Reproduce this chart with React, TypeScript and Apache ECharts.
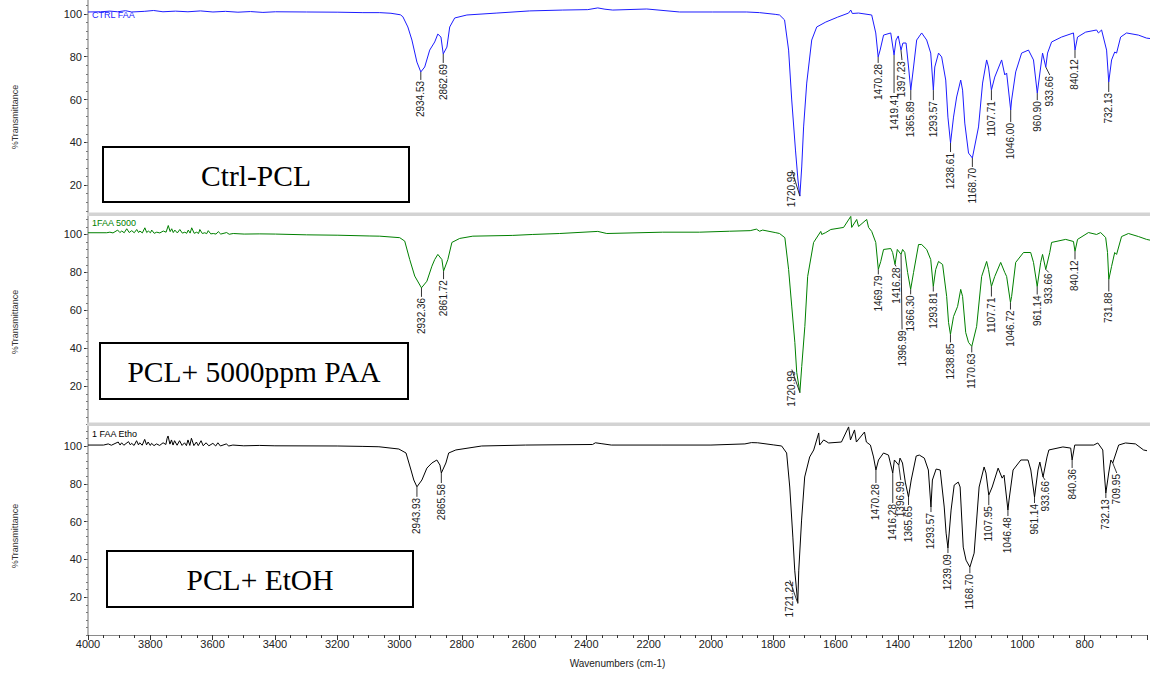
import React, { useEffect, useRef } from "react";
import * as echarts from "echarts";

// ---------- Data ----------
const xTickLabels = [4000, 3800, 3600, 3400, 3200, 3000, 2800, 2600, 2400, 2200, 2000, 1800, 1600, 1400, 1200, 1000, 800];
const yTickValues = [20, 40, 60, 80, 100];

const panelTitles = ["Ctrl-PCL", "PCL+ 5000ppm PAA", "PCL+ EtOH"];
const seriesNames = ["CTRL FAA", "1FAA 5000", "1 FAA Etho"];

const ctrlSpectrum = [
  [4000, 100.9], [3960, 101.0], [3930, 101.3], [3905, 101.0], [3880, 101.5], [3860, 100.9], [3820, 101.2],
  [3790, 101.6], [3760, 101.0], [3720, 101.3], [3680, 101.0], [3640, 101.4], [3600, 100.9], [3560, 101.2],
  [3520, 100.8], [3480, 101.1], [3440, 100.7], [3400, 101.0], [3300, 100.9], [3200, 100.8], [3120, 100.6],
  [3066, 100.6], [3030, 100.3], [3000, 99.6], [2992, 98.7], [2976, 93.9], [2963, 87.8], [2947, 77.5],
  [2934.5, 72.9], [2922, 75.2], [2906, 83.1], [2890, 86.9], [2880, 90.6], [2870, 89.2], [2862.7, 81.3],
  [2851, 84.5], [2842, 93.9], [2826, 98.1], [2787, 99.5], [2691, 100.4], [2586, 101.4], [2480, 101.8],
  [2400, 102.0], [2368, 102.8], [2345, 102.2], [2320, 101.8], [2211, 102.3], [2106, 100.9], [2000, 100.9],
  [1891, 100.9], [1850, 100.6], [1800, 99.8], [1786, 99.5], [1770, 97.2], [1757, 83.1], [1747, 59.8],
  [1735, 36.4], [1727, 22.4], [1721, 14.9], [1715, 28.5], [1709, 47.2], [1699, 67.7], [1683, 87.8],
  [1667, 93.9], [1638, 96.2], [1600, 98.5], [1565, 100.4], [1558, 101.8], [1553, 100.2], [1533, 100.4],
  [1491, 99.5], [1478, 91.1], [1470.3, 79.9], [1464, 83.1], [1453, 90.1], [1430, 91.1], [1419.4, 80.8],
  [1413, 87.8], [1406, 89.7], [1397.2, 83.1], [1391, 86.4], [1381, 86.4], [1373, 75.2], [1365.9, 64.4],
  [1357, 75.2], [1347, 87.8], [1331, 91.1], [1315, 87.8], [1302, 81.7], [1293.6, 64.4], [1289, 75.2],
  [1277, 81.7], [1267, 79.9], [1254, 69.1], [1247, 51.8], [1238.6, 39.7], [1229, 51.8], [1219, 61.2],
  [1206, 69.1], [1200, 64.4], [1193, 49.0], [1181, 35.0], [1168.7, 32.7], [1149, 47.2], [1136, 67.7],
  [1123, 78.5], [1117, 75.2], [1107.7, 64.4], [1097, 70.5], [1075, 78.5], [1065, 71.5], [1059, 72.4],
  [1046, 55.1], [1043, 59.8], [1030, 72.9], [1011, 81.7], [989, 83.1], [973, 78.5], [960.9, 63.0],
  [950, 75.2], [944, 81.7], [933.7, 75.2], [928, 81.7], [915, 86.9], [883, 89.2], [845, 91.1],
  [840.1, 83.1], [832, 89.2], [806, 91.5], [771, 92.5], [765, 91.1], [755, 92.5], [739, 83.1],
  [732.1, 68.2], [723, 78.5], [713, 82.2], [707, 81.7], [694, 89.2], [675, 91.1], [637, 90.1],
  [611, 88.7], [600, 88.5],
];

const paaSpectrum = [
  [4000, 100.9], [3940, 100.9], [3930, 101.2], [3920, 100.8], [3905, 102.3], [3898, 101.0], [3892, 101.8],
  [3884, 100.9], [3876, 103.0], [3868, 101.0], [3860, 102.0], [3852, 100.9], [3844, 102.6], [3838, 101.0],
  [3834, 101.8], [3826, 100.8], [3818, 103.5], [3812, 101.0], [3807, 101.8], [3800, 100.9], [3796, 102.3],
  [3788, 100.6], [3780, 101.2], [3770, 100.8], [3759, 101.8], [3750, 101.2], [3743, 104.7], [3737, 101.5],
  [3732, 103.0], [3727, 101.0], [3722, 102.3], [3714, 100.8], [3706, 102.6], [3698, 100.7], [3690, 101.2],
  [3684, 100.6], [3679, 102.3], [3673, 100.7], [3668, 103.5], [3660, 100.6], [3652, 101.2], [3646, 100.5],
  [3642, 102.6], [3634, 100.5], [3626, 100.9], [3620, 100.4], [3615, 102.0], [3607, 100.3], [3599, 100.5],
  [3590, 100.2], [3583, 101.5], [3575, 100.2], [3556, 101.0], [3548, 100.1], [3535, 100.5], [3500, 100.2],
  [3450, 100.3], [3400, 100.2], [3300, 99.8], [3200, 99.6], [3100, 99.2], [3066, 99.1], [3002, 98.3],
  [2986, 96.5], [2970, 86.8], [2954, 78.1], [2932.4, 71.9], [2915, 75.4], [2899, 83.3], [2890, 86.8],
  [2880, 89.5], [2867, 86.8], [2861.7, 80.7], [2848, 86.8], [2835, 95.8], [2810, 97.9], [2768, 99.1],
  [2640, 99.5], [2576, 100.0], [2490, 100.5], [2368, 101.6], [2339, 100.5], [2160, 101.2], [2042, 101.2],
  [1946, 101.7], [1880, 102.0], [1860, 102.8], [1850, 101.7], [1840, 102.3], [1800, 101.0], [1786, 100.5],
  [1769, 98.3], [1757, 81.6], [1747, 62.3], [1737, 43.2], [1731, 27.4], [1721, 16.8], [1715, 30.5],
  [1705, 51.6], [1696, 77.9], [1677, 95.8], [1654, 101.6], [1651, 100.0], [1638, 101.0], [1622, 102.6],
  [1581, 103.7], [1558, 109.5], [1555, 103.7], [1539, 107.9], [1533, 104.2], [1507, 107.9], [1501, 103.7],
  [1491, 101.6], [1478, 95.8], [1469.8, 81.6], [1462, 85.8], [1453, 92.1], [1430, 92.6], [1424, 90.5],
  [1416.3, 84.2], [1409, 92.1], [1397, 89.5], [1392, 92.1], [1385, 90.5], [1376, 80.0], [1366.3, 71.1],
  [1357, 80.0], [1341, 94.7], [1331, 94.7], [1315, 92.1], [1302, 86.8], [1293.8, 72.6], [1286, 81.6],
  [1277, 85.8], [1264, 84.2], [1251, 67.4], [1245, 53.7], [1238.9, 47.4], [1229, 56.8], [1216, 62.1],
  [1206, 71.1], [1200, 67.4], [1190, 48.4], [1181, 43.2], [1170.6, 41.1], [1155, 51.6], [1139, 77.9],
  [1123, 85.8], [1117, 81.6], [1107.7, 72.6], [1097, 77.9], [1078, 85.3], [1065, 80.0], [1059, 77.9],
  [1046.7, 64.2], [1043, 67.4], [1030, 85.3], [1005, 90.5], [982, 90.5], [973, 85.3], [961.1, 72.6],
  [950, 85.3], [944, 89.5], [933.7, 81.6], [921, 90.5], [915, 95.8], [870, 97.4], [845, 96.3],
  [840.1, 91.1], [832, 97.4], [797, 101.0], [771, 100.0], [758, 101.0], [742, 98.4], [736, 90.5],
  [731.9, 76.3], [723, 83.2], [713, 90.5], [707, 89.5], [691, 98.9], [669, 100.5], [637, 98.9],
  [611, 97.4], [600, 97.0],
];

const etohSpectrum = [
  [4000, 100.5], [3950, 100.5], [3935, 101.1], [3925, 100.4], [3903, 102.1], [3897, 100.5], [3892, 101.7],
  [3885, 100.4], [3870, 102.3], [3864, 100.6], [3860, 101.4], [3852, 100.3], [3844, 102.8], [3838, 100.6],
  [3834, 101.7], [3826, 100.4], [3818, 103.5], [3812, 100.6], [3807, 102.1], [3800, 100.3], [3796, 101.4],
  [3788, 100.2], [3780, 101.1], [3770, 100.3], [3759, 101.7], [3750, 100.8], [3746, 104.1], [3743, 105.3],
  [3737, 101.0], [3732, 103.2], [3727, 100.5], [3722, 102.8], [3714, 100.4], [3706, 102.8], [3698, 100.3],
  [3690, 101.7], [3684, 100.2], [3679, 103.2], [3673, 100.3], [3668, 104.1], [3660, 100.2], [3652, 102.1],
  [3646, 100.2], [3637, 102.8], [3630, 100.1], [3621, 101.7], [3612, 100.1], [3599, 101.4], [3590, 100.0],
  [3583, 101.7], [3575, 100.0], [3556, 101.1], [3548, 100.0], [3535, 100.5], [3500, 100.1], [3450, 100.3],
  [3400, 100.1], [3200, 100.0], [3120, 99.8], [3066, 99.6], [3002, 98.4], [2979, 96.3], [2963, 87.3],
  [2954, 82.0], [2943.9, 78.4], [2928, 82.0], [2912, 88.3], [2896, 91.0], [2880, 92.6], [2870, 89.9],
  [2865.6, 85.7], [2851, 91.0], [2842, 96.3], [2819, 97.9], [2736, 100.0], [2595, 100.5], [2380, 100.8],
  [2371, 101.7], [2350, 101.2], [2320, 100.5], [2160, 100.5], [2000, 100.5], [1891, 101.1], [1870, 101.8],
  [1850, 101.7], [1800, 100.6], [1773, 100.0], [1757, 96.3], [1747, 78.3], [1737, 51.8], [1731, 34.3],
  [1721.2, 16.8], [1718, 34.3], [1709, 60.8], [1699, 83.6], [1683, 94.2], [1670, 97.9], [1654, 106.9],
  [1651, 100.5], [1638, 103.2], [1622, 101.6], [1581, 102.1], [1558, 110.1], [1552, 103.2], [1539, 108.5],
  [1533, 102.1], [1507, 107.4], [1501, 102.1], [1488, 100.5], [1478, 94.2], [1470.3, 87.3], [1462, 92.6],
  [1446, 96.3], [1430, 95.2], [1416.3, 85.7], [1411, 92.6], [1397, 89.9], [1393, 93.6], [1385, 91.0],
  [1376, 80.9], [1365.7, 73.0], [1357, 82.0], [1341, 94.7], [1331, 95.2], [1315, 93.6], [1302, 87.3],
  [1293.6, 67.7], [1289, 82.0], [1277, 87.8], [1264, 87.3], [1251, 67.7], [1245, 53.9], [1239.1, 46.0],
  [1229, 66.1], [1219, 79.3], [1206, 80.9], [1200, 78.3], [1190, 46.5], [1181, 39.6], [1168.7, 35.9],
  [1155, 43.3], [1139, 78.3], [1123, 88.9], [1117, 85.7], [1108, 74.0], [1097, 78.3], [1078, 88.3],
  [1065, 83.0], [1059, 84.6], [1046.5, 66.1], [1043, 71.4], [1030, 87.3], [1005, 92.6], [982, 92.6],
  [973, 87.3], [961.1, 73.0], [950, 87.3], [944, 91.5], [933.7, 83.6], [921, 94.2], [915, 97.9],
  [870, 99.5], [845, 98.9], [840.4, 92.6], [832, 100.5], [771, 100.5], [758, 101.6], [742, 97.9],
  [738, 87.3], [732.1, 75.1], [723, 85.7], [716, 92.6], [710, 91.0], [691, 100.5], [669, 101.6],
  [637, 101.1], [611, 97.9], [600, 97.5],
];

// Peak labels: [wavenumber, %T at the peak]
const ctrlPeaks = [
  [2934.53, 72.9], [2862.69, 81.3], [1720.99, 14.9], [1470.28, 79.9], [1419.41, 80.8], [1397.23, 83.1],
  [1365.89, 64.4], [1293.57, 64.4], [1238.61, 39.7], [1168.7, 32.7], [1107.71, 64.4], [1046.0, 55.1],
  [960.9, 63.0], [933.66, 75.2], [840.12, 83.1], [732.13, 68.2],
];
const paaPeaks = [
  [2932.36, 71.9], [2861.72, 80.7], [1720.99, 16.8], [1469.79, 81.6], [1416.28, 84.2], [1396.99, 89.5],
  [1366.3, 71.1], [1293.81, 72.6], [1238.85, 47.4], [1170.63, 41.1], [1107.71, 72.6], [1046.72, 64.2],
  [961.14, 72.6], [933.66, 81.6], [840.12, 91.1], [731.88, 76.3],
];
const etohPeaks = [
  [2943.93, 78.4], [2865.58, 85.7], [1721.22, 16.8], [1470.28, 87.3], [1416.28, 85.7], [1396.99, 89.9],
  [1365.65, 73.0], [1293.57, 67.7], [1239.09, 46.0], [1168.7, 35.9], [1107.95, 74.0], [1046.48, 66.1],
  [961.14, 73.0], [933.66, 83.6], [840.36, 92.6], [732.13, 75.1], [709.95, 91.0],
];

// Label leader offsets in px [dx, dy] (style only)
const ctrlLeader = [[0, 8], [0, 9], [-8, -26], [0, 6], [0, 38], [1, 10], [0, 10], [0, 10], [0, 9], [0, 9], [0, 10], [0, 12], [0, 7], [4, 8], [0, 8], [0, 10]];
const paaLeader = [[0, 9], [0, 8], [-8, -23], [0, 5], [1, 2], [1, 75], [0, 5], [0, 5], [0, 8], [0, 6], [0, 10], [0, 7], [0, 8], [3, 3], [0, 8], [0, 12]];
const etohLeader = [[0, 10], [0, 10], [-8, -23], [0, 13], [0, 30], [2, 15], [0, 8], [0, 5], [0, 5], [0, 6], [0, 10], [0, 6], [0, 6], [2, 3], [0, 8], [0, 5], [4, 10]];

// ---------- Layout / style ----------
const COLORS = ["#1c1cff", "#008000", "#000000"];
const SANS = '"Liberation Sans", Arial, sans-serif';
const SERIF = '"Liberation Serif", "Times New Roman", serif';
const GRIDS = [
  { top: 0, height: 213, min: 7, max: 106.5 },
  { top: 214.5, height: 210, min: 0, max: 110.5 },
  { top: 424, height: 211, min: 0, max: 111.64 },
];
const BOXES = [
  { x: 103, y: 147, w: 306, h: 55 },
  { x: 100, y: 343, w: 308, h: 56 },
  { x: 107, y: 551, w: 306, h: 56 },
];
const NAME_POS = [15, 223, 434];
const YNAME_POS = [117, 322, 536];

function labelRenderer(offsets: number[][]) {
  return (params: any, api: any) => {
    const wn = api.value(0);
    const t = api.value(1);
    const p = api.coord([wn, t]);
    const off = offsets[params.dataIndex] || [0, 8];
    const tx = p[0] + off[0];
    const ty = p[1] + off[1];
    return {
      type: "group",
      children: [
        {
          type: "line",
          shape: { x1: p[0], y1: p[1], x2: tx, y2: ty },
          style: { stroke: "#333", lineWidth: 1 },
        },
        {
          type: "text",
          x: tx,
          y: ty + 1,
          rotation: Math.PI / 2,
          style: {
            text: Number(wn).toFixed(2),
            align: "right",
            verticalAlign: "middle",
            fill: "#222",
            font: `10px ${SANS}`,
          },
        },
      ],
    };
  };
}

export default function App() {
  const ref = useRef<HTMLDivElement>(null);

  useEffect(() => {
    document.body.style.margin = "0";
    if (!ref.current) return;
    const chart = echarts.init(ref.current, null, { renderer: "svg" });

    const spectra = [ctrlSpectrum, paaSpectrum, etohSpectrum];
    const peaks = [ctrlPeaks, paaPeaks, etohPeaks];
    const leaders = [ctrlLeader, paaLeader, etohLeader];

    const minorY: number[] = [];
    for (let v = 0; v <= 110; v += 4) minorY.push(v);

    const grid = GRIDS.map((g) => ({ left: 88, top: g.top, height: g.height, width: 1062.5 }));

    const xAxis = GRIDS.map((g, i) => ({
      type: "value",
      gridIndex: i,
      min: 600,
      max: 4000,
      interval: 200,
      inverse: true,
      show: i === 2,
      axisLine: { show: true, lineStyle: { color: "#8a8a8a", width: 1 } },
      axisTick: { show: true, length: 5, lineStyle: { color: "#333" } },
      minorTick: { show: true, splitNumber: 4, length: 3, lineStyle: { color: "#333" } },
      splitLine: { show: false },
      axisLabel: {
        margin: 3,
        color: "#222",
        fontSize: 11,
        fontFamily: SANS,
        formatter: (v: number) => (xTickLabels.indexOf(v) >= 0 ? String(v) : ""),
      },
      name: i === 2 ? "Wavenumbers (cm-1)" : "",
      nameLocation: "middle",
      nameGap: 23,
      nameTextStyle: { color: "#222", fontSize: 10, fontFamily: SANS },
    }));

    const yAxisMain = GRIDS.map((g, i) => ({
      type: "value",
      gridIndex: i,
      min: g.min,
      max: g.max,
      position: "left",
      axisLine: { show: true, lineStyle: { color: "#a0a0a0", width: 1.5 } },
      axisTick: { show: true, length: 4, customValues: yTickValues, lineStyle: { color: "#333" } },
      axisLabel: { customValues: yTickValues, margin: 6, color: "#222", fontSize: 11, fontFamily: SANS },
      splitLine: { show: false },
    }));
    const yAxisMinor = GRIDS.map((g, i) => ({
      type: "value",
      gridIndex: i,
      min: g.min,
      max: g.max,
      position: "left",
      offset: 0,
      axisLine: { show: false },
      axisTick: {
        show: true,
        length: 2,
        customValues: minorY.filter((v) => v >= g.min && v <= g.max),
        lineStyle: { color: "#777" },
      },
      axisLabel: { show: false },
      splitLine: { show: false },
    }));

    const series: any[] = [];
    spectra.forEach((data, i) => {
      series.push({
        type: "line",
        xAxisIndex: i,
        yAxisIndex: i,
        data,
        showSymbol: false,
        symbol: "none",
        lineStyle: { color: COLORS[i], width: 1 },
        itemStyle: { color: COLORS[i] },
        clip: false,
        z: 3,
      });
      series.push({
        type: "custom",
        xAxisIndex: i,
        yAxisIndex: i,
        data: peaks[i],
        renderItem: labelRenderer(leaders[i]),
        z: 4,
        silent: true,
        clip: false,
      });
    });

    const graphic: any[] = [];
    // separators
    [212.5, 422.5].forEach((y) => {
      graphic.push({ type: "rect", shape: { x: 87, y, width: 1063, height: 3.5 }, style: { fill: "#d3d3d3" }, z: 10 });
    });
    BOXES.forEach((b, i) => {
      graphic.push({
        type: "rect",
        shape: { x: b.x, y: b.y, width: b.w, height: b.h },
        style: { fill: "#fff", stroke: "#000", lineWidth: 2 },
        z: 20,
      });
      graphic.push({
        type: "text",
        x: b.x + b.w / 2,
        y: b.y + b.h / 2 + 1,
        style: {
          text: panelTitles[i],
          align: "center",
          verticalAlign: "middle",
          fill: "#000",
          font: `29.5px ${SERIF}`,
        },
        z: 21,
      });
    });
    seriesNames.forEach((n, i) => {
      graphic.push({
        type: "text",
        x: 92,
        y: NAME_POS[i],
        style: { text: n, align: "left", verticalAlign: "middle", fill: COLORS[i], font: `9px ${SANS}` },
        z: 21,
      });
      graphic.push({
        type: "text",
        x: 15,
        y: YNAME_POS[i],
        rotation: Math.PI / 2,
        style: { text: "%Transmittance", align: "center", verticalAlign: "middle", fill: "#333", font: `9px ${SANS}` },
        z: 21,
      });
    });

    chart.setOption({
      animation: false,
      backgroundColor: "#fff",
      grid,
      xAxis,
      yAxis: [...yAxisMain, ...yAxisMinor],
      series,
      graphic,
    });

    return () => chart.dispose();
  }, []);

  return <div ref={ref} style={{ width: 1150, height: 673 }} />;
}
